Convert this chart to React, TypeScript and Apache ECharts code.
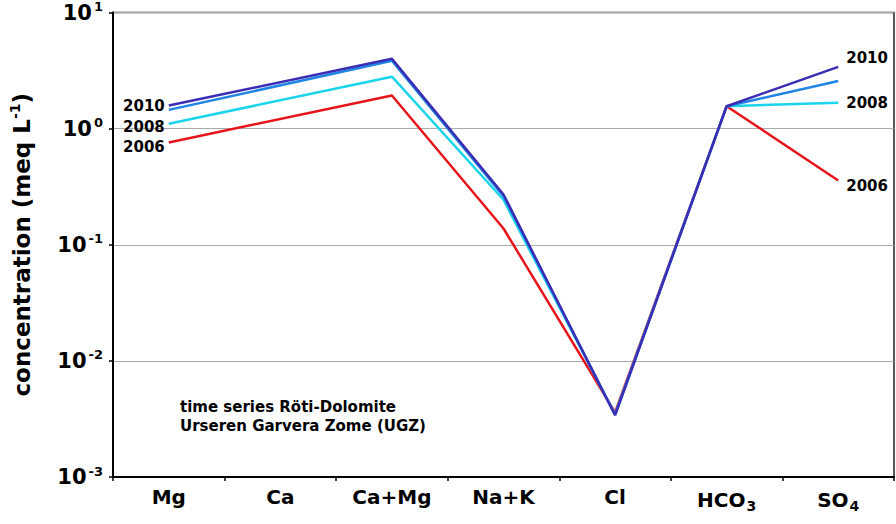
import React, { useEffect, useRef } from "react";
import * as echarts from "echarts";

const categories = ["Mg", "Ca", "Ca+Mg", "Na+K", "Cl", "HCO3", "SO4"];
const categoryBase = ["Mg", "Ca", "Ca+Mg", "Na+K", "Cl", "HCO", "SO"];
const categorySub = ["", "", "", "", "", "3", "4"];

const years = ["2006", "2008", "2009", "2010"];
const values2006 = [0.76, null, 1.93, 0.138, 0.0036, 1.56, 0.357];
const values2008 = [1.1, null, 2.8, 0.244, 0.00345, 1.56, 1.67];
const values2009 = [1.45, null, 3.84, 0.262, 0.00345, 1.56, 2.57];
const values2010 = [1.58, null, 3.99, 0.271, 0.0034, 1.56, 3.4];
const seriesValues = [values2006, values2008, values2009, values2010];
const colors = ["#e8141c", "#1ad4ec", "#1f84e4", "#3a2db4"];

const labelledYears = ["2006", "2008", "2010"];
const leftLabelOffsets: Record<string, number> = { "2010": 0, "2008": 3, "2006": 5 };
const rightLabelOffsets: Record<string, number> = { "2010": -9, "2008": 0, "2006": 5 };

const annotation = ["time series Röti-Dolomite", "Urseren Garvera Zome (UGZ)"];

export default function App() {
  const ref = useRef<HTMLDivElement>(null);
  useEffect(() => {
    document.body.style.margin = "0";
    if (!ref.current) return;
    const chart = echarts.init(ref.current, null, { renderer: "svg" });
    const font = "DejaVu Sans, sans-serif";
    const yearLabel = (pos: string, dist: number, off: number, text: string) => ({
      show: true,
      position: pos,
      distance: dist,
      offset: [0, off],
      formatter: text,
      color: "#000",
      fontWeight: "bold",
      fontSize: 15,
      fontFamily: font,
    });
    const series = years.map((y, si) => {
      const vals = seriesValues[si];
      const data = vals.map((v, i) => {
        if (labelledYears.includes(y) && i === 0) {
          return { value: v, label: yearLabel("left", 4, leftLabelOffsets[y], y) };
        }
        if (labelledYears.includes(y) && i === vals.length - 1) {
          return { value: v, label: yearLabel("right", 8, rightLabelOffsets[y], y) };
        }
        return v;
      });
      return {
        name: y,
        type: "line",
        data,
        connectNulls: true,
        symbol: "circle",
        symbolSize: 0,
        showSymbol: true,
        label: { show: false },
        lineStyle: { color: colors[si], width: 2.5 },
        itemStyle: { color: colors[si] },
        z: 2 + si,
      };
    });
    chart.setOption({
      animation: false,
      grid: {
        left: 101,
        right: 2,
        top: 9,
        bottom: 47,
        show: true,
        borderColor: "#222",
        borderWidth: 1.5,
        containLabel: false,
      },
      xAxis: {
        type: "category",
        data: categories,
        boundaryGap: true,
        axisLine: { show: true, lineStyle: { color: "#000", width: 2 } },
        axisTick: { show: true, length: 4, lineStyle: { color: "#000", width: 1.5 } },
        axisLabel: {
          margin: 10,
          interval: 0,
          formatter: (_: string, idx: number) =>
            categorySub[idx]
              ? `{m|${categoryBase[idx]}}{sub|${categorySub[idx]}}`
              : `{m|${categoryBase[idx]}}`,
          rich: {
            m: { fontSize: 20, fontWeight: "bold", fontFamily: font, color: "#000" },
            sub: {
              fontSize: 14,
              fontWeight: "bold",
              fontFamily: font,
              color: "#000",
              padding: [12, 0, 0, 1],
            },
          },
        },
        splitLine: { show: false },
      },
      yAxis: {
        type: "log",
        logBase: 10,
        min: 0.001,
        max: 10,
        name: "{t|concentration (meq L}{s|-1}{t|)}",
        nameLocation: "middle",
        nameGap: 78,
        nameRotate: 90,
        nameTextStyle: {
          rich: {
            t: { fontSize: 23, fontWeight: "bold", fontFamily: font, color: "#000" },
            s: {
              fontSize: 14,
              fontWeight: "bold",
              fontFamily: font,
              color: "#000",
              padding: [0, 0, 13, 0],
            },
          },
        },
        axisLine: { show: true, lineStyle: { color: "#000", width: 2 } },
        axisTick: { show: true, length: 4, lineStyle: { color: "#000", width: 1.5 } },
        minorTick: { show: false },
        splitLine: { show: true, lineStyle: { color: "#aaa", width: 1.2 } },
        axisLabel: {
          margin: 10,
          formatter: (v: number) => {
            const e = Math.round(Math.log10(v));
            return `{b|10}{s|${e}}`;
          },
          rich: {
            b: { fontSize: 21, fontWeight: "bold", fontFamily: font, color: "#000" },
            s: {
              fontSize: 13,
              fontWeight: "bold",
              fontFamily: font,
              color: "#000",
              padding: [0, 0, 12, 2],
            },
          },
        },
      },
      graphic: [
        {
          type: "text",
          left: 180,
          top: 397,
          style: {
            text: annotation.join("\n"),
            font: `bold 15px ${font}`,
            fill: "#000",
            lineHeight: 19,
          },
        },
      ],
      series,
    });
    return () => chart.dispose();
  }, []);
  return <div ref={ref} style={{ width: 896, height: 524 }} />;
}
